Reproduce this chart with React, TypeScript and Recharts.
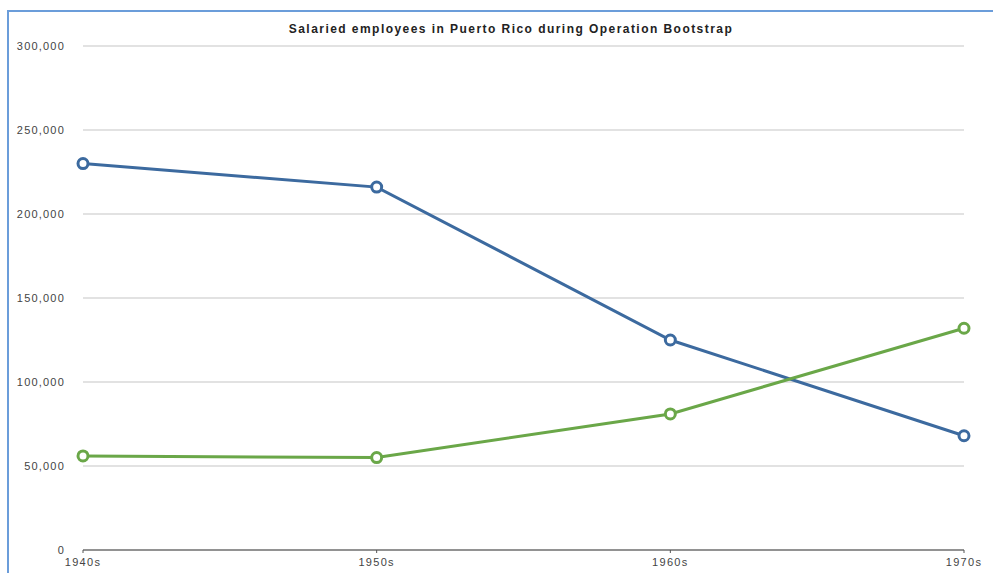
import React from "react";
import { LineChart, Line, XAxis, YAxis, CartesianGrid } from "recharts";

const decades = ["1940s", "1950s", "1960s", "1970s"];
const seriesBlue = [230000, 216000, 125000, 68000];
const seriesGreen = [56000, 55000, 81000, 132000];
const yTicks = [0, 50000, 100000, 150000, 200000, 250000, 300000];

const data = decades.map((d, i) => ({ decade: d, blue: seriesBlue[i], green: seriesGreen[i] }));

const BLUE = "#3c6a9f";
const GREEN = "#6aa748";
const FONT = "'Liberation Sans', Arial, Helvetica, sans-serif";

const fmt = (v: number) => (v === 0 ? "0" : v.toLocaleString("en-US"));

export default function App() {
  return (
    <div style={{ position: "absolute", left: 0, top: 0, width: 993, height: 573, background: "#fff", overflow: "hidden" }}>
      <div style={{ position: "absolute", left: 8, top: 10, width: 985, height: 2, background: "#6b9dda" }} />
      <div style={{ position: "absolute", left: 7, top: 10, width: 2, height: 563, background: "#6b9dda" }} />
      <div
        style={{
          position: "absolute",
          left: 0,
          width: 1022,
          top: 22,
          textAlign: "center",
          fontFamily: FONT,
          fontWeight: "bold",
          fontSize: 12,
          letterSpacing: 1.45,
          color: "#222",
        }}
      >
        Salaried employees in Puerto Rico during Operation Bootstrap
      </div>
      <div style={{ position: "absolute", left: 0, top: 0 }}>
        <LineChart width={993} height={573} data={data} margin={{ top: 46, right: 29, bottom: 0, left: 8 }}>
          <CartesianGrid vertical={false} stroke="#d9d9d9" strokeWidth={1.5} />
          <XAxis
            dataKey="decade"
            height={23}
            stroke="#666"
            tickSize={3}
            tickMargin={5}
            padding={{ left: 0, right: 0 }}
            tick={{ fill: "#444", fontSize: 11, fontFamily: FONT, letterSpacing: 1.3 }}
            axisLine={{ stroke: "#777", strokeWidth: 1.5 }}
            tickLine={{ stroke: "#555" }}
          />
          <YAxis
            width={75}
            domain={[0, 300000]}
            ticks={yTicks}
            tickFormatter={fmt}
            axisLine={false}
            tickLine={false}
            tickSize={0}
            tickMargin={18}
            tick={{ fill: "#444", fontSize: 11, fontFamily: FONT, letterSpacing: 1.2 }}
          />
          <Line
            type="linear"
            dataKey="blue"
            stroke={BLUE}
            strokeWidth={3}
            dot={{ r: 5, fill: "#fff", stroke: BLUE, strokeWidth: 3 }}
            isAnimationActive={false}
          />
          <Line
            type="linear"
            dataKey="green"
            stroke={GREEN}
            strokeWidth={3}
            dot={{ r: 5, fill: "#fff", stroke: GREEN, strokeWidth: 3 }}
            isAnimationActive={false}
          />
        </LineChart>
      </div>
    </div>
  );
}
